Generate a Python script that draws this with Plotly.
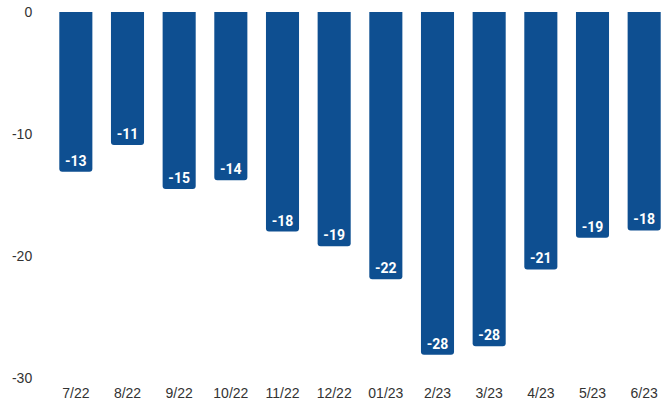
import plotly.graph_objects as go

months = ["7/22", "8/22", "9/22", "10/22", "11/22", "12/22",
          "01/23", "2/23", "3/23", "4/23", "5/23", "6/23"]
values = [-13.1, -10.9, -14.5, -13.8, -18.0, -19.2,
          -21.9, -28.1, -27.4, -21.1, -18.5, -17.9]
labels = ["-13", "-11", "-15", "-14", "-18", "-19",
          "-22", "-28", "-28", "-21", "-19", "-18"]
y_ticks = [0, -10, -20, -30]
y_tick_text = ["0", "-10", "-20", "-30"]

fig = go.Figure()

fig.add_trace(go.Bar(
    x=months,
    y=values,
    text=labels,
    textposition="inside",
    insidetextanchor="end",
    textangle=0,
    textfont=dict(family="Roboto", size=14, color="white", weight="bold"),
    marker=dict(color="#0e4f91", cornerradius=3, line=dict(width=0)),
    hoverinfo="skip",
))

fig.update_layout(
    width=670,
    height=401,
    margin=dict(l=50, r=0, t=12, b=20),
    paper_bgcolor="white",
    plot_bgcolor="white",
    bargap=0.36,
    showlegend=False,
    uniformtext=dict(minsize=14, mode="show"),
    font=dict(family="Arial", size=14, color="#333333"),
)

fig.update_xaxes(
    showgrid=False,
    showline=False,
    zeroline=False,
    ticks="outside",
    ticklen=2,
    tickcolor="rgba(0,0,0,0)",
    tickfont=dict(family="Arial", size=14, color="#333333"),
)

fig.update_yaxes(
    range=[-30, 0],
    tickvals=y_ticks,
    ticktext=y_tick_text,
    showgrid=False,
    showline=False,
    zeroline=False,
    ticks="outside",
    ticklen=14,
    tickcolor="rgba(0,0,0,0)",
    tickfont=dict(family="Arial", size=14, color="#333333"),
)

# page body has a default 8px margin; drop it so the figure fills the window
fig.write_html("out.html", config={"displayModeBar": False},
               post_script="document.body.style.margin='0';")
